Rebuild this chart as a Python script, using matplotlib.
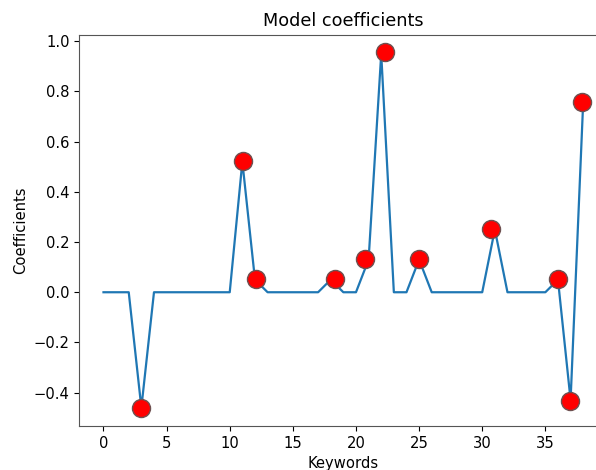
import numpy as np
import matplotlib
matplotlib.use('Agg')
import matplotlib.pyplot as plt

# coefficient for each keyword index (0..38)
coef = [0, 0, 0, -0.46, 0, 0, 0, 0, 0, 0,
        0, 0.52, 0.05, 0, 0, 0, 0, 0, 0.05, 0,
        0, 0.13, 0.95, 0, 0, 0.13, 0, 0, 0, 0,
        0, 0.25, 0, 0, 0, 0, 0.05, -0.43, 0.76]

# highlighted (non-zero) coefficients as drawn
sel_x = [2.98, 11.06, 12.1, 18.37, 20.75, 22.3, 25.0, 30.7, 36.0, 36.98, 37.9]
sel_y = [-0.462, 0.522, 0.053, 0.053, 0.134, 0.956, 0.134, 0.252, 0.053, -0.432, 0.759]

plt.rcParams['font.size'] = 10.6

fig = plt.figure(figsize=(5.96, 4.70), dpi=100)
ax = fig.add_axes([79.5 / 596, 1 - 426 / 470, 527.7 / 596, 391.5 / 470])

ax.plot(np.arange(len(coef)), coef, color='#1f77b4', lw=1.6)
ax.plot(sel_x, sel_y, 'o', color='red', ms=13, mec='#6e5050', mew=1.0)

ax.set_title('Model coefficients')
ax.set_xlabel('Keywords')
ax.set_ylabel('Coefficients')
for s in ax.spines.values():
    s.set_color('#555555')

fig.savefig('out.png', dpi=100)
